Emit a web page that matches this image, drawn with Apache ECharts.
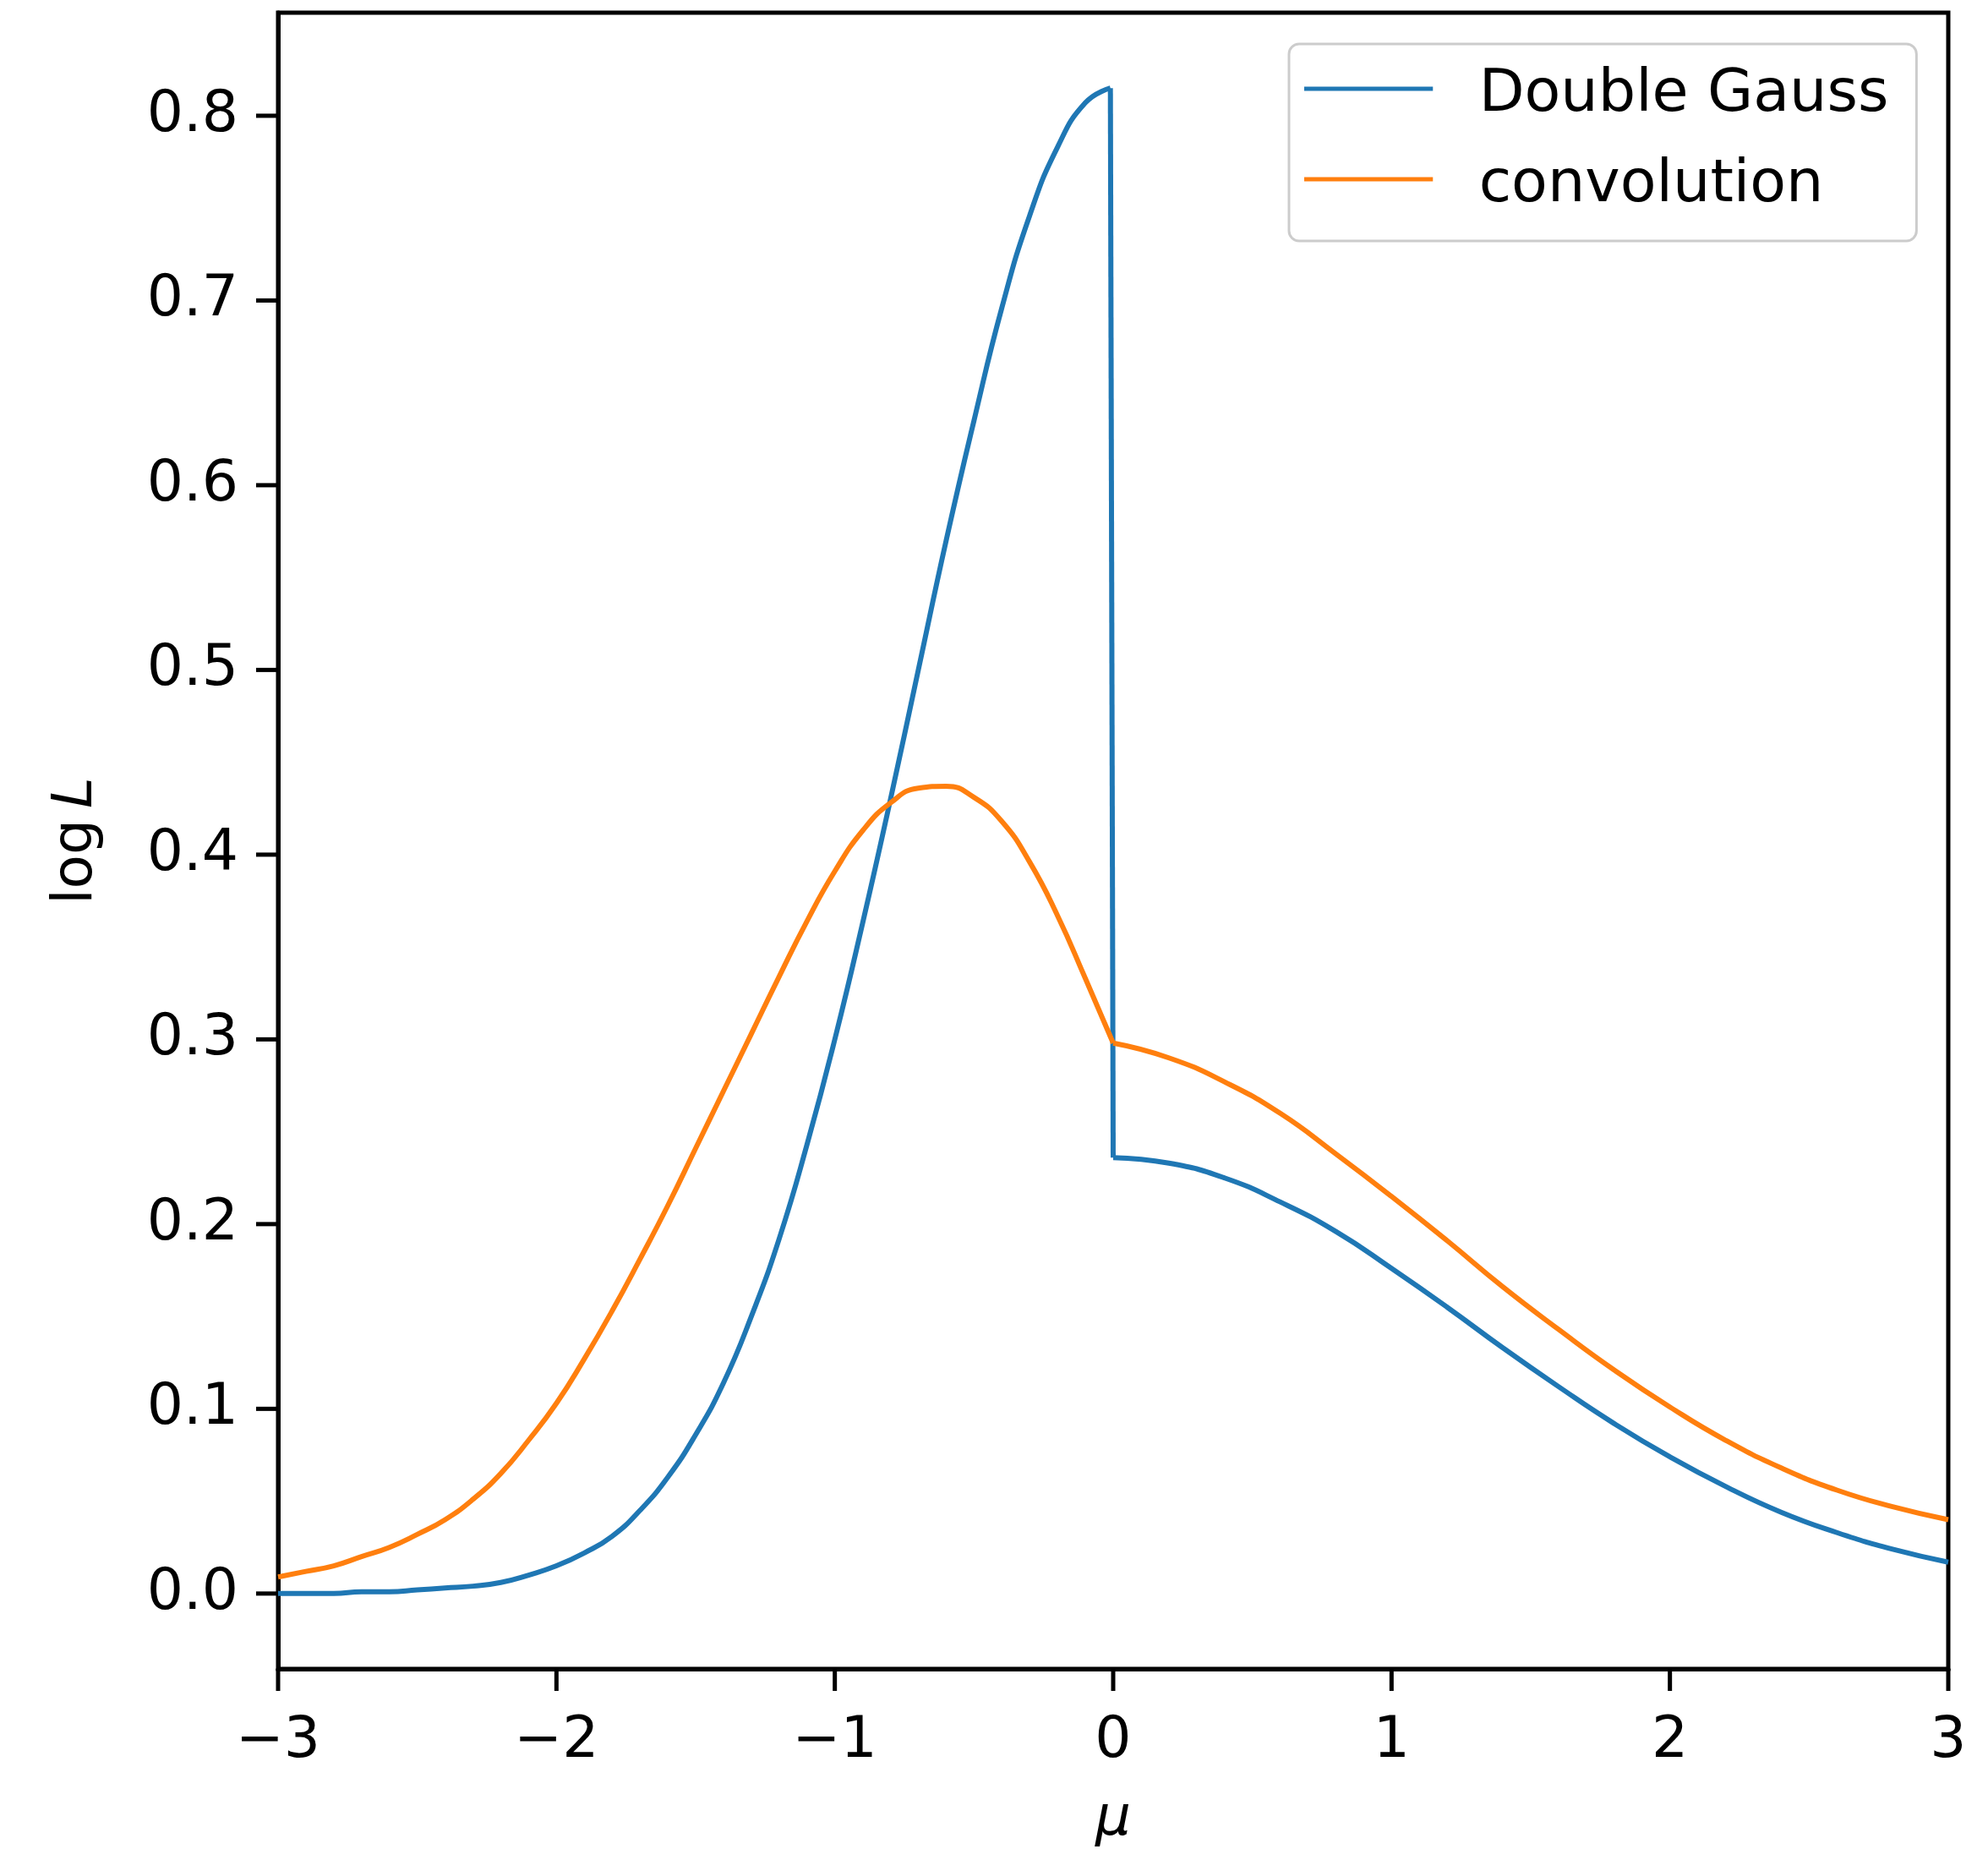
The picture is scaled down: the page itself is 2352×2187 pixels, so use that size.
<!DOCTYPE html>
<html>
<head>
<meta charset="utf-8">
<script src="https://cdn.jsdelivr.net/npm/echarts@6.0.0/dist/echarts.min.js"></script>
<style>
  html, body { margin: 0; padding: 0; background: #fff; }
  #chart { width: 2352px; height: 2187px; }
</style>
</head>
<body>
<div id="chart"></div>
<script>
// values
const dgMu = [-3.0, -2.9, -2.8, -2.7, -2.6, -2.5, -2.4, -2.3, -2.2, -2.1, -2.0, -1.9, -1.8, -1.7, -1.6, -1.5,
  -1.4, -1.3, -1.2, -1.1, -1.0, -0.9, -0.8, -0.7, -0.6, -0.5, -0.4, -0.3, -0.2, -0.1, -0.01,
  0.0, 0.2, 0.4, 0.6, 0.8, 1.0, 1.2, 1.4, 1.6, 1.8, 2.0, 2.2, 2.4, 2.6, 2.8, 3.0];
const dgLogL = [0.000, 0.000, 0.000, 0.001, 0.001, 0.002, 0.003, 0.004, 0.006, 0.010, 0.015, 0.022, 0.031, 0.045, 0.063, 0.086,
  0.114, 0.150, 0.192, 0.243, 0.300, 0.363, 0.430, 0.500, 0.570, 0.635, 0.696, 0.746, 0.783, 0.807, 0.815,
  0.236, 0.233, 0.225, 0.212, 0.196, 0.176, 0.155, 0.133, 0.112, 0.092, 0.074, 0.058, 0.044, 0.033, 0.024, 0.017];

const convMu = [-3.0, -2.9, -2.8, -2.7, -2.6, -2.5, -2.4, -2.3, -2.2, -2.1, -2.0, -1.9, -1.8, -1.7, -1.6, -1.5,
  -1.4, -1.3, -1.2, -1.1, -1.0, -0.9, -0.8, -0.7, -0.6, -0.5, -0.4, -0.3, -0.2, -0.1,
  0.0, 0.2, 0.4, 0.6, 0.8, 1.0, 1.2, 1.4, 1.6, 1.8, 2.0, 2.2, 2.4, 2.6, 2.8, 3.0];
const convLogL = [0.009, 0.012, 0.015, 0.020, 0.025, 0.032, 0.040, 0.051, 0.065, 0.083, 0.103, 0.127, 0.153, 0.181, 0.210, 0.241,
  0.272, 0.303, 0.334, 0.364, 0.391, 0.413, 0.428, 0.436, 0.437, 0.431, 0.418, 0.396, 0.367, 0.333,
  0.298, 0.290, 0.277, 0.260, 0.238, 0.215, 0.191, 0.166, 0.143, 0.121, 0.101, 0.083, 0.068, 0.056, 0.047, 0.040];

const seriesNames = ["Double Gauss", "convolution"];
const yTicks = [0, 0.1, 0.2, 0.3, 0.4, 0.5, 0.6, 0.7, 0.8];

const X_MIN = -3, X_MAX = 3;
const Y_MIN = -0.0408, Y_MAX = 0.8558;

const FONT = "DejaVu Sans";
const BLUE = "#1f77b4";
const ORANGE = "#ff7f0e";
const TICK_LEN = 26;
const TICK_W = 5;
const zip = (xs, ys) => xs.map((x, i) => [x, ys[i]]);

// split at the step / cusp so the smoothing keeps the sharp corners
const dgPts = zip(dgMu, dgLogL);
const convPts = zip(convMu, convLogL);
const dgLeft = dgPts.filter((p) => p[0] <= -0.01);
const dgJump = dgPts.filter((p) => p[0] >= -0.01 && p[0] <= 0);
const dgRight = dgPts.filter((p) => p[0] >= 0);
const convLeft = convPts.filter((p) => p[0] <= 0);
const convRight = convPts.filter((p) => p[0] >= 0);

const myChart = echarts.init(document.getElementById("chart"), null, { renderer: "canvas" });

const blackLine = { show: true, onZero: false, lineStyle: { color: "#000", width: 5 } };

let xAxis = {
  type: "value",
  position: "bottom",
  min: X_MIN,
  max: X_MAX,
  interval: 1,
  name: "{m|μ}",
  nameLocation: "middle",
  nameGap: 146,
  nameTextStyle: {
    rich: {
      m: { fontFamily: FONT, fontSize: 66, fontStyle: "italic", color: "#000" },
    },
  },
  axisLine: blackLine,
  axisTick: { show: false },
  axisLabel: {
    margin: 52,
    fontFamily: FONT,
    fontSize: 68,
    color: "#000",
    formatter: (v) => (v < 0 ? "\u2212" + Math.abs(v) : String(v)),
  },
  splitLine: { show: false },
};

let yAxis = {
  type: "value",
  position: "left",
  min: Y_MIN,
  max: Y_MAX,
  name: "{a|log\u2009}{b|L}",
  nameLocation: "middle",
  nameRotate: 90,
  nameGap: 205,
  nameTextStyle: {
    rich: {
      a: { fontFamily: FONT, fontSize: 66, color: "#000" },
      b: { fontFamily: FONT, fontSize: 66, fontStyle: "italic", color: "#000" },
    },
  },
  axisLine: blackLine,
  axisTick: { show: false },
  axisLabel: {
    margin: 47,
    fontFamily: FONT,
    fontSize: 68,
    color: "#000",
    customValues: yTicks,
    formatter: (v) => v.toFixed(1),
  },
  splitLine: { show: false },
};

// second pair of axes on the same scales, used only to draw the outward tick marks
let xTickAxis = {
  type: "value",
  position: "bottom",
  min: X_MIN,
  max: X_MAX,
  interval: 1,
  axisLine: { show: false, onZero: false },
  axisTick: { show: false },
  splitLine: { show: false },
  axisLabel: {
    margin: 0,
    formatter: () => "{t|\u00a0}",
    rich: {
      t: { width: TICK_W, height: TICK_LEN, lineHeight: TICK_LEN, fontSize: 4, backgroundColor: "#000" },
    },
  },
};

let yTickAxis = {
  type: "value",
  position: "left",
  min: Y_MIN,
  max: Y_MAX,
  axisLine: { show: false, onZero: false },
  axisTick: { show: false },
  splitLine: { show: false },
  axisLabel: {
    margin: 0,
    customValues: yTicks,
    formatter: () => "{t|\u00a0}",
    rich: {
      t: { width: TICK_LEN, height: TICK_W, lineHeight: TICK_W, fontSize: 4, backgroundColor: "#000" },
    },
  },
};

const lineSeries = (name, data, color, z) => ({
  name,
  type: "line",
  data,
  xAxisIndex: 0,
  yAxisIndex: 0,
  showSymbol: false,
  symbol: "none",
  smooth: 0.5,
  color,
  lineStyle: { width: 6, color },
  z,
});

let options = {
  animation: false,
  color: [BLUE, ORANGE],
  grid: {
    left: 329,
    right: 47,
    top: 15,
    bottom: 213,
    outerBoundsMode: "none",
    containLabel: false,
    show: true,
    borderColor: "#000",
    borderWidth: 5,
    backgroundColor: "transparent",
  },
  legend: {
    data: seriesNames,
    orient: "vertical",
    left: 1525,
    top: 52,
    padding: [21, 33, 25, 18],
    itemGap: 27,
    itemWidth: 153,
    itemHeight: 21,
    // bar at the top of the icon box, so the label sits a little lower than the line
    icon: "path://M0,0h153v5h-153zM0,21h0.1v0.1h-0.1z",
    backgroundColor: "rgba(255,255,255,0.8)",
    borderColor: "#cccccc",
    borderWidth: 3,
    borderRadius: 12,
    textStyle: {
      fontFamily: FONT,
      fontSize: 70,
      lineHeight: 80,
      color: "#000",
      padding: [0, 0, 0, 49],
    },
  },
  xAxis: [xAxis, xTickAxis],
  yAxis: [yAxis, yTickAxis],
  series: [
    lineSeries(seriesNames[0], dgLeft, BLUE, 2),
    lineSeries(seriesNames[0], dgJump, BLUE, 2),
    lineSeries(seriesNames[0], dgRight, BLUE, 2),
    lineSeries(seriesNames[1], convLeft, ORANGE, 3),
    lineSeries(seriesNames[1], convRight, ORANGE, 3),
  ],
};

myChart.setOption(options);
</script>
</body>
</html>
